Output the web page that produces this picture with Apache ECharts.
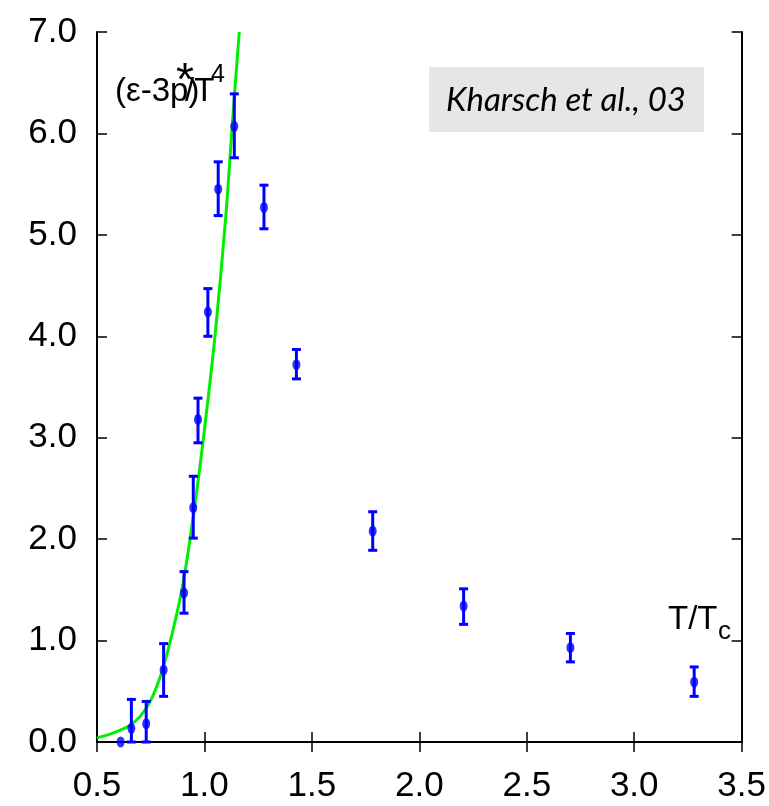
<!DOCTYPE html>
<html><head><meta charset="utf-8">
<script src="https://cdn.jsdelivr.net/npm/echarts@6/dist/echarts.min.js"></script>
<style>html,body{margin:0;padding:0;background:#fff}#c{width:769px;height:806px}</style>
</head><body><div id="c"></div>
<script>
// Data: lattice points (T/Tc, (e-3p)/T^4) with error bar bounds
var ptX  = [0.61, 0.66, 0.729, 0.81, 0.905, 0.948, 0.97, 1.016, 1.064, 1.139, 1.277, 1.428, 1.783, 2.206, 2.703, 3.279];
var ptY  = [0.00, 0.135, 0.18, 0.71, 1.47, 2.31, 3.18, 4.24, 5.45, 6.07, 5.27, 3.72, 2.08, 1.34, 0.93, 0.59];
var ptLo = [0.00, 0.00, 0.00, 0.45, 1.27, 2.01, 2.95, 4.00, 5.19, 5.76, 5.06, 3.58, 1.89, 1.16, 0.79, 0.45];
var ptHi = [0.00, 0.42, 0.40, 0.97, 1.68, 2.62, 3.39, 4.47, 5.72, 6.39, 5.49, 3.87, 2.27, 1.51, 1.07, 0.74];
// Green curve
var curveX = [0.50, 0.55, 0.60, 0.65, 0.70, 0.75, 0.80, 0.85, 0.90, 0.95, 1.00, 1.05, 1.10, 1.13, 1.162];
var curveY = [0.04, 0.07, 0.11, 0.16, 0.25, 0.41, 0.68, 1.07, 1.56, 2.25, 3.08, 4.02, 5.20, 6.10, 7.00];
// Tick labels
var xTicks = ['0.5','1.0','1.5','2.0','2.5','3.0','3.5'];
var yTicks = ['0.0','1.0','2.0','3.0','4.0','5.0','6.0','7.0'];

var FONT = '"Liberation Sans", Arial, sans-serif';
var points = ptX.map(function(x,i){ return [x, ptY[i]]; });
var bars = ptX.map(function(x,i){ return [x, ptLo[i], ptHi[i]]; });
var curve = curveX.map(function(x,i){ return [x, curveY[i]]; });

var chart = echarts.init(document.getElementById('c'));
var axisCommon = {
  axisLine: {show: true, lineStyle: {color: '#000', width: 2}},
  axisTick: {show: true, inside: true, length: 10, lineStyle: {color: '#000', width: 1.5}},
  splitLine: {show: false}
};
chart.setOption({
  animation: false,
  backgroundColor: '#fff',
  grid: {left: 97, right: 21, top: 32, bottom: 64, containLabel: false},
  xAxis: [
    Object.assign({type: 'value', min: 0.5, max: 3.5, interval: 0.5, position: 'bottom',
      axisLabel: {margin: 27, fontFamily: FONT, fontSize: 35, color: '#000',
        formatter: function(v){ var i = Math.round((v-0.5)/0.5); return xTicks[i]; }}}, axisCommon),
    Object.assign({type: 'value', min: 0.5, max: 3.5, interval: 0.5, position: 'top',
      axisLabel: {show: false}}, axisCommon)
  ],
  yAxis: [
    Object.assign({type: 'value', min: 0, max: 7, interval: 1, position: 'left',
      axisLabel: {margin: 20, fontFamily: FONT, fontSize: 35, color: '#000',
        formatter: function(v){ return yTicks[Math.round(v)]; }}}, axisCommon),
    Object.assign({type: 'value', min: 0, max: 7, interval: 1, position: 'right',
      axisLabel: {show: false}}, axisCommon)
  ],
  graphic: [
    {type: 'rect', left: 429, top: 67, shape: {width: 275, height: 65}, style: {fill: '#e6e6e6'}, z: 1},
    {type: 'text', x: 566, y: 100, z: 2, style: {text: 'Kharsch et al., 03', fontFamily: 'Lato, sans-serif',
      fontStyle: 'italic', fontSize: 33, fill: '#000', align: 'center', verticalAlign: 'middle'}},
    {type: 'text', x: 115, y: 92, z: 2, style: {text: '(ε-3p)', fontFamily: FONT, fontSize: 33, fill: '#000', verticalAlign: 'middle'}},
    {type: 'text', x: 176, y: 82, z: 2, style: {text: '*', fontFamily: FONT, fontSize: 46, fill: '#000', verticalAlign: 'middle'}},
    {type: 'text', x: 185, y: 92, z: 2, style: {text: '/T', fontFamily: FONT, fontSize: 33, fill: '#000', verticalAlign: 'middle'}},
    {type: 'text', x: 211, y: 75, z: 2, style: {text: '4', fontFamily: FONT, fontSize: 25, fill: '#000', verticalAlign: 'middle'}},
    {type: 'text', x: 668, y: 620, z: 2, style: {text: 'T/T', fontFamily: FONT, fontSize: 33, fill: '#000', verticalAlign: 'middle'}},
    {type: 'text', x: 718, y: 632, z: 2, style: {text: 'c', fontFamily: FONT, fontSize: 26, fill: '#000', verticalAlign: 'middle'}}
  ],
  series: [
    {type: 'line', data: curve, smooth: 0.3, showSymbol: false, symbol: 'none',
      lineStyle: {color: '#00ee00', width: 3}, z: 3},
    {type: 'custom', data: bars, z: 4, clip: false,
      renderItem: function(params, api){
        var x = api.value(0), lo = api.value(1), hi = api.value(2);
        if (hi - lo <= 0) return null;
        var pLo = api.coord([x, lo]), pHi = api.coord([x, hi]);
        var cw = 4.5;
        return {type: 'group', children: [
          {type: 'line', shape: {x1: pLo[0], y1: pLo[1], x2: pHi[0], y2: pHi[1]}, style: {stroke: '#0000ff', lineWidth: 3}},
          {type: 'line', shape: {x1: pLo[0]-cw, y1: pLo[1], x2: pLo[0]+cw, y2: pLo[1]}, style: {stroke: '#0000ff', lineWidth: 3}},
          {type: 'line', shape: {x1: pHi[0]-cw, y1: pHi[1], x2: pHi[0]+cw, y2: pHi[1]}, style: {stroke: '#0000ff', lineWidth: 3}}
        ]};
      }},
    {type: 'scatter', data: points, symbol: 'circle', symbolSize: [8, 11], clip: false,
      itemStyle: {color: '#0000ff'}, z: 5}
  ]
});
</script>
</body></html>
